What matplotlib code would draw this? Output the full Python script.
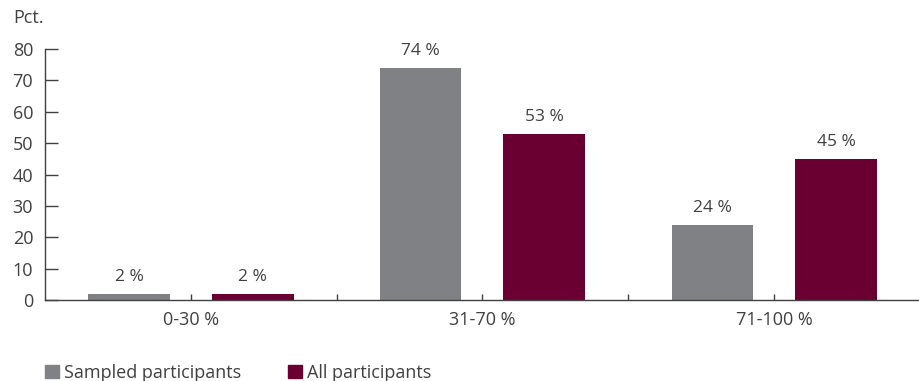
import numpy as np
import matplotlib.pyplot as plt
from matplotlib.patches import Patch

plt.rcParams['font.family'] = ['Open Sans', 'DejaVu Sans']

# andel af svar pr. gruppe
groups = ['0-30 %', '31-70 %', '71-100 %']
sampled = [2, 74, 24]
all_part = [2, 53, 45]
series_names = ['Sampled participants', 'All participants']

grey = '#808184'
maroon = '#6a0032'
txt = '#404040'

fig = plt.figure(figsize=(9.2, 3.81), dpi=100)
ax = fig.add_axes([45 / 920, 1 - 300 / 381, 1 - 45 / 920, (300 - 49) / 381])

x = np.arange(len(groups))
w = 0.28
off = 0.212
b1 = ax.bar(x - off, sampled, w, color=grey)
b2 = ax.bar(x + off, all_part, w, color=maroon)

for bars, vals in ((b1, sampled), (b2, all_part)):
    for rect, v in zip(bars, vals):
        ax.annotate(f'{v} %', (rect.get_x() + rect.get_width() / 2, v),
                    xytext=(0, 6), textcoords='offset points',
                    ha='center', va='bottom', fontsize=12.5, color=txt)

ax.set_xlim(-0.5, 2.5)
ax.set_ylim(0, 80)
ax.set_yticks(range(0, 81, 10))
ax.set_xticks(x)
ax.set_xticklabels(groups)
ax.set_xticks([0.5, 1.5], minor=True)

for s in ['top', 'right']:
    ax.spines[s].set_visible(False)
for s in ['left', 'bottom']:
    ax.spines[s].set_color(txt)
    ax.spines[s].set_linewidth(1)

ax.tick_params(axis='y', direction='in', length=9, width=1, color=txt,
               labelsize=13, labelcolor=txt, pad=8.5)
ax.tick_params(axis='x', which='both', direction='in', length=4.5, width=1,
               color=txt, labelsize=13, labelcolor=txt, pad=8)

fig.text(13 / 920, 1 - 18 / 381, 'Pct.', fontsize=13, color=txt,
         ha='left', va='center')

handles = [Patch(color=grey), Patch(color=maroon)]
fig.legend(handles, series_names, loc='lower left',
           bbox_to_anchor=(29 / 920, -0.045), ncol=2, frameon=False,
           fontsize=13, labelcolor=txt, handlelength=0.75, handleheight=0.75,
           handletextpad=0.3, columnspacing=2.6)

fig.savefig('out.png', dpi=100)
